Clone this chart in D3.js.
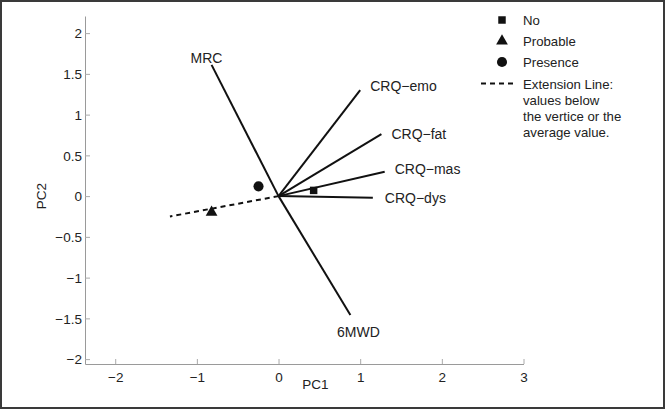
<!DOCTYPE html>
<html>
<head>
<meta charset="utf-8">
<script src="https://cdn.jsdelivr.net/npm/d3@7"></script>
<style>
  html, body { margin: 0; padding: 0; background: #fff; }
  svg { display: block; font-family: "Liberation Sans", Arial, Helvetica, sans-serif; }
</style>
</head>
<body>
<svg id="chart" width="667" height="410"></svg>
<script>
// ---- data ----
const vectorNames = ["MRC", "CRQ\u2212emo", "CRQ\u2212fat", "CRQ\u2212mas", "CRQ\u2212dys", "6MWD"];
const vectorPC1 = [-0.82, 1.00, 1.26, 1.30, 1.155, 0.88];
const vectorPC2 = [1.61, 1.30, 0.76, 0.30, -0.02, -1.46];

const extensionPC1 = [0, -1.33];
const extensionPC2 = [0, -0.25];

const groupNames = ["No", "Probable", "Presence"];
const groupPC1 = [0.43, -0.82, -0.245];
const groupPC2 = [0.07, -0.20, 0.12];

const xTicks = [-2, -1, 0, 1, 2, 3];
const yTicks = [-2, -1.5, -1, -0.5, 0, 0.5, 1, 1.5, 2];

const legendExtensionLines = ["Extension Line:", "values below", "the vertice or the", "average value."];

// ---- drawing ----
const svg = d3.select("#chart");

const x = d3.scaleLinear().domain([-2.37, 3]).range([85, 523.5]);
const y = d3.scaleLinear().domain([-2.06, 2.21]).range([364, 16]);
const fmt = d3.format("~g");

// frame
svg.append("rect")
  .attr("x", 1).attr("y", 1).attr("width", 663).attr("height", 407)
  .attr("fill", "none").attr("stroke", "#3a3a3a").attr("stroke-width", 2);

// axes
const xAxis = svg.append("g")
  .attr("transform", `translate(0,${y.range()[0]})`)
  .call(d3.axisBottom(x).tickValues(xTicks).tickFormat(fmt).tickSizeInner(-5).tickSizeOuter(0).tickPadding(8));
const yAxis = svg.append("g")
  .attr("transform", `translate(${x.range()[0]},0)`)
  .call(d3.axisLeft(y).tickValues(yTicks).tickFormat(fmt).tickSizeInner(-5).tickSizeOuter(0).tickPadding(3));

[xAxis, yAxis].forEach(g => {
  g.select(".domain").attr("stroke", "#9a9a9a").attr("stroke-width", 1);
  g.selectAll(".tick line").attr("stroke", "#aaa").attr("stroke-width", 1);
  g.selectAll(".tick text").attr("fill", "#222").attr("font-size", 13.5)
    .attr("font-family", "'Liberation Sans', Arial, sans-serif");
});
yAxis.selectAll(".tick text").attr("x", -3).attr("dy", "0.36em");

// axis titles
svg.append("text")
  .attr("x", x(0.45)).attr("y", 389)
  .attr("text-anchor", "middle").attr("font-size", 13.5).attr("fill", "#222")
  .text("PC1");
svg.append("text")
  .attr("transform", `translate(46,${y(0)}) rotate(-90)`)
  .attr("text-anchor", "middle").attr("font-size", 13.5).attr("fill", "#222")
  .text("PC2");

// extension line
svg.append("line")
  .attr("x1", x(extensionPC1[0])).attr("y1", y(extensionPC2[0]))
  .attr("x2", x(extensionPC1[1])).attr("y2", y(extensionPC2[1]))
  .attr("stroke", "#111").attr("stroke-width", 2).attr("stroke-dasharray", "5,4");

// vectors
const labelOffsets = [
  {dx: -21, dy: -1.5, anchor: "start"},
  {dx: 10, dy: 1, anchor: "start"},
  {dx: 10, dy: 4.5, anchor: "start"},
  {dx: 10, dy: 2, anchor: "start"},
  {dx: 12, dy: 5, anchor: "start"},
  {dx: 8, dy: 22, anchor: "middle"}
];
const vectors = vectorNames.map((n, i) => ({name: n, px: vectorPC1[i], py: vectorPC2[i], off: labelOffsets[i]}));

svg.selectAll("line.vec").data(vectors).enter().append("line")
  .attr("class", "vec")
  .attr("x1", x(0)).attr("y1", y(0))
  .attr("x2", d => x(d.px)).attr("y2", d => y(d.py))
  .attr("stroke", "#111").attr("stroke-width", 2);

svg.selectAll("text.vlab").data(vectors).enter().append("text")
  .attr("class", "vlab")
  .attr("x", d => x(d.px) + d.off.dx).attr("y", d => y(d.py) + d.off.dy)
  .attr("text-anchor", d => d.off.anchor)
  .attr("font-size", 14).attr("fill", "#222")
  .text(d => d.name);

// group markers
const symbolTypes = [d3.symbolSquare, d3.symbolTriangle, d3.symbolCircle];
const symbolSizes = [56, 60, 80];
const groups = groupNames.map((n, i) => ({name: n, px: groupPC1[i], py: groupPC2[i], i}));

svg.selectAll("path.grp").data(groups).enter().append("path")
  .attr("class", "grp")
  .attr("d", d => d3.symbol().type(symbolTypes[d.i]).size(symbolSizes[d.i])())
  .attr("transform", d => `translate(${x(d.px)},${y(d.py)})`)
  .attr("fill", "#111");

// legend
const leg = svg.append("g");
groups.forEach((d, i) => {
  const cy = 20 + i * 21;
  leg.append("path")
    .attr("d", d3.symbol().type(symbolTypes[i]).size(symbolSizes[i])())
    .attr("transform", `translate(502,${cy})`)
    .attr("fill", "#111");
  leg.append("text")
    .attr("x", 523).attr("y", cy + 4.5)
    .attr("font-size", 13.2).attr("fill", "#222")
    .text(d.name);
});
leg.append("line")
  .attr("x1", 481).attr("x2", 515).attr("y1", 83.5).attr("y2", 83.5)
  .attr("stroke", "#111").attr("stroke-width", 2).attr("stroke-dasharray", "5,4");
legendExtensionLines.forEach((t, i) => {
  leg.append("text")
    .attr("x", 523).attr("y", 88.5 + i * 16.3)
    .attr("font-size", 13.2).attr("fill", "#222")
    .text(t);
});
</script>
</body>
</html>
